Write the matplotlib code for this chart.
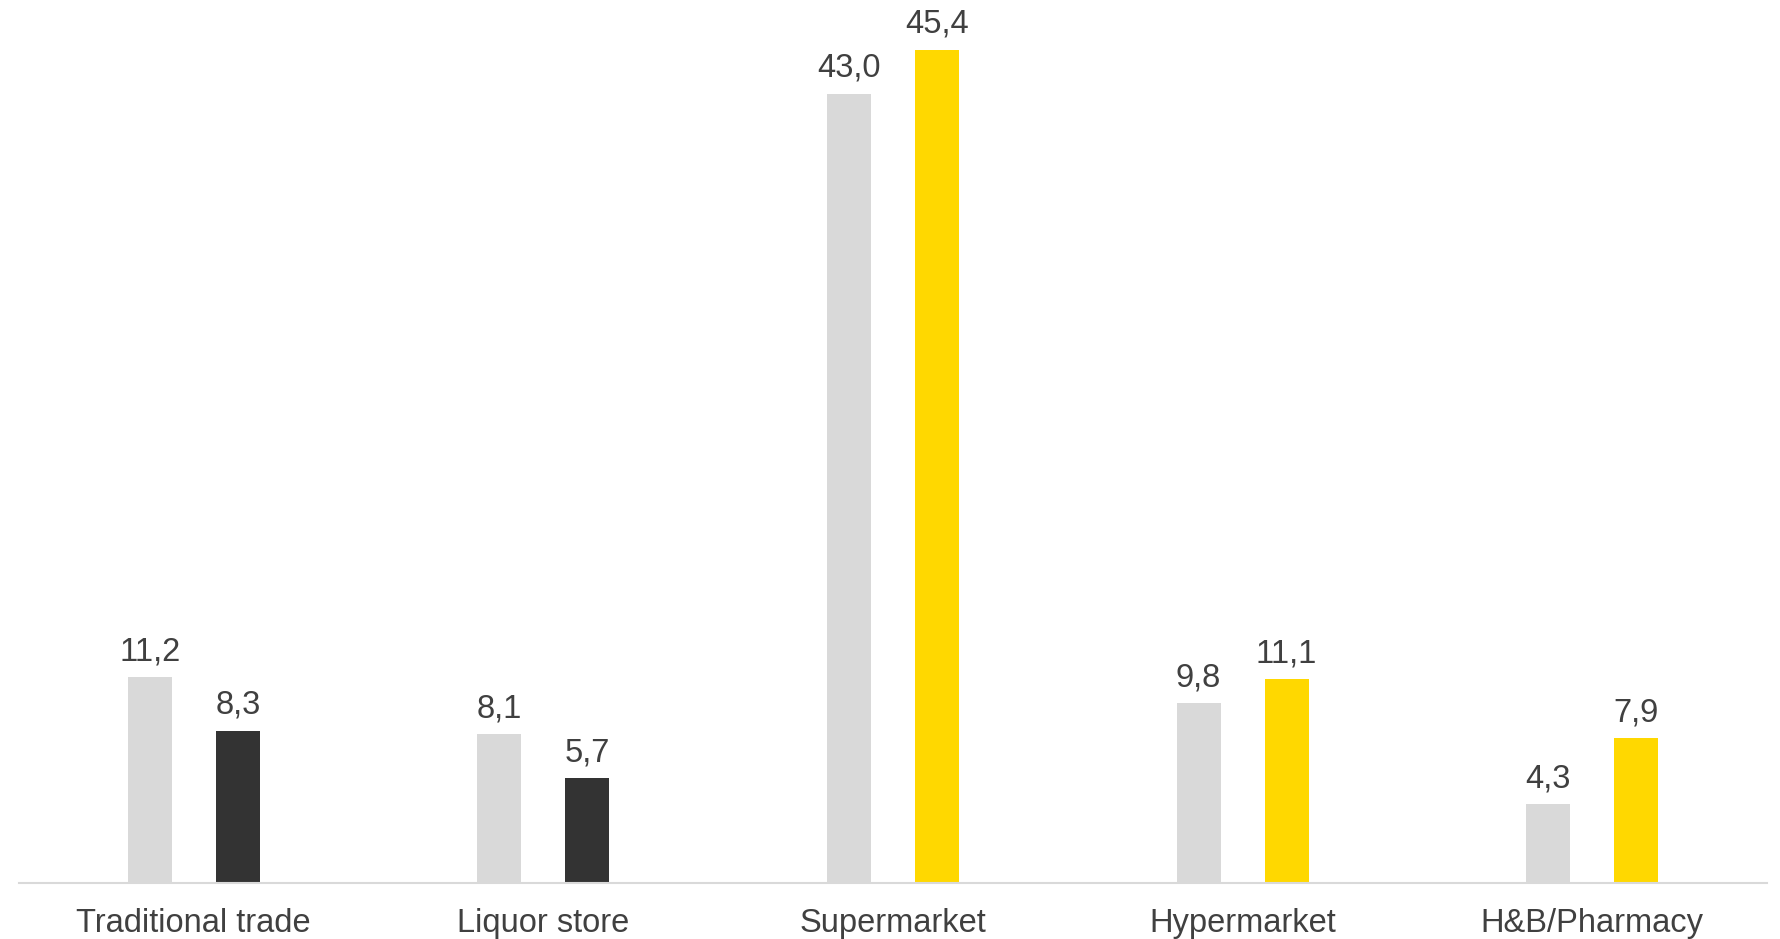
import matplotlib
matplotlib.use("Agg")
import matplotlib.pyplot as plt
import numpy as np

categories = ["Traditional trade", "Liquor store", "Supermarket", "Hypermarket", "H&B/Pharmacy"]
before = [11.2, 8.1, 43.0, 9.8, 4.3]
after = [8.3, 5.7, 45.4, 11.1, 7.9]
after_colors = ["#333333", "#333333", "#FFD800", "#FFD800", "#FFD800"]

grey = "#D9D9D9"
txt = "#404040"
plt.rcParams['font.family'] = ['Liberation Sans', 'DejaVu Sans']

fig = plt.figure(figsize=(17.8, 9.39), dpi=100)
ax = fig.add_axes([19/1780, 56/939, 1748/1780, 883/939])

x = np.arange(len(categories))
w = 0.126
b1 = ax.bar(x - w, before, width=w, color=grey)
b2 = ax.bar(x + w, after, width=w, color=after_colors)

def fmt(v):
    return "{:.1f}".format(v).replace(".", ",")

for bars, vals in [(b1, before), (b2, after)]:
    for r, v in zip(bars, vals):
        ax.annotate(fmt(v), (r.get_x() + r.get_width()/2, v), xytext=(0, 7),
                    textcoords="offset points", ha="center", va="bottom",
                    fontsize=23.5, color=txt)

ax.set_xlim(-0.5, 4.5)
ax.set_ylim(0, 48.1)
ax.set_xticks(x)
ax.set_xticklabels(categories, fontsize=23.5, color=txt)
ax.tick_params(axis="x", length=0, pad=18)
ax.set_yticks([])
for s in ["top", "right", "left"]:
    ax.spines[s].set_visible(False)
ax.spines["bottom"].set_color(grey)
ax.spines["bottom"].set_linewidth(1.5)

fig.savefig("out.png", dpi=100)
